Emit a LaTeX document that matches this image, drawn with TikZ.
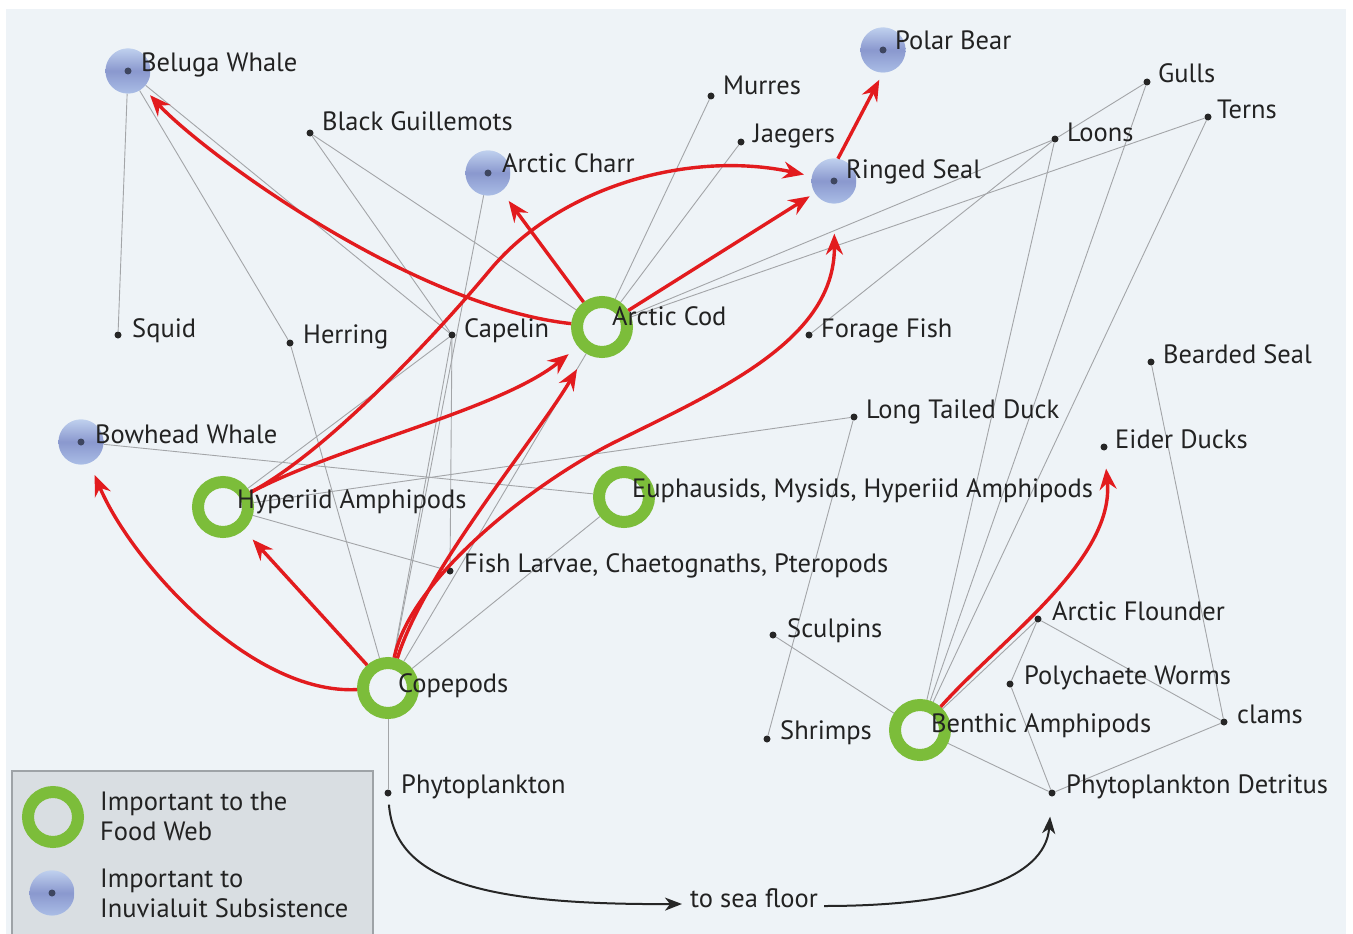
\documentclass[tikz,border=0pt]{standalone}
\usepackage{fontspec}
\setmainfont{PT Sans}
\usetikzlibrary{arrows.meta}
\definecolor{webgreen}{HTML}{7CBD3A}
\definecolor{webred}{HTML}{E21B1E}
\definecolor{webline}{HTML}{A3A5A8}
\definecolor{seabg}{HTML}{EEF3F7}
\definecolor{legendbg}{HTML}{D9DEE2}
\definecolor{legendrim}{HTML}{9EA3A7}
\definecolor{discTop}{HTML}{BFD0EE}
\definecolor{discMid}{HTML}{8A98CE}
\definecolor{discBot}{HTML}{AABDE6}
\definecolor{discDot}{HTML}{3E4660}
\definecolor{labeltext}{HTML}{222222}
\newcommand{\webfont}{\fontsize{26.5}{30}\selectfont}
\pgfdeclarelayer{bg}
\pgfdeclarelayer{edges}
\pgfsetlayers{bg,edges,main}

\begin{document}
\begin{tikzpicture}[x=1pt, y=-1pt, font=\webfont,
  food/.style={circle, draw=webgreen, line width=12pt, minimum size=50pt, inner sep=0pt},
  subsist/.style={circle, minimum size=45pt, inner sep=0pt, fill=discTop,
    path picture={
      \shade[top color=discTop, bottom color=discBot, middle color=discMid]
        (path picture bounding box.south west) rectangle (path picture bounding box.north east);
      \fill[discDot] (path picture bounding box.center) circle (3.5pt);}},
  sp/.style={circle, fill=black!85, minimum size=7pt, inner sep=0pt},
  lbl/.style={anchor=base west, inner sep=0pt, text=labeltext},
  web/.style={draw=webline, line width=0.9pt},
  eat/.style={-{Stealth[length=21pt,width=17pt,inset=7pt]}, draw=webred, line width=3.4pt},
  flow/.style={-{Stealth[length=17pt,width=13pt,inset=5pt]}, draw=black!85, line width=2pt}]
  \useasboundingbox (0,0) rectangle (1353,934);

  % background and legend box
  \begin{pgfonlayer}{bg}
    \fill[white] (0,0) rectangle (1353,934);
    \fill[seabg] (6,9) rectangle (1346,934);
    \fill[legendbg] (12,771) rectangle (373,934);
    \draw[legendrim, line width=2pt] (12,934) |- (373,771) -- (373,934);
  \end{pgfonlayer}

  % important to subsistence
  \node[subsist] (beluga)    at (128,71)  {};
  \node[subsist] (polarbear) at (883,50)  {};
  \node[subsist] (charr)     at (488,173) {};
  \node[subsist] (seal)      at (834,181) {};
  \node[subsist] (bowhead)   at (81,442)  {};

  % important to the food web
  \node[food] (cod)       at (602,327) {};
  \node[food] (hyperiid)  at (223,507) {};
  \node[food] (euph)      at (624,497) {};
  \node[food] (copepods)  at (388,688) {};
  \node[food] (benthic)   at (920,730) {};

  % other species
  \node[sp] (guillemots) at (310,133) {};
  \node[sp] (murres)     at (711,96)  {};
  \node[sp] (jaegers)    at (741,142) {};
  \node[sp] (gulls)      at (1147,82) {};
  \node[sp] (terns)      at (1208,117) {};
  \node[sp] (loons)      at (1055,139) {};
  \node[sp] (squid)      at (118,335) {};
  \node[sp] (herring)    at (290,343) {};
  \node[sp] (capelin)    at (452,335) {};
  \node[sp] (forage)     at (809,335) {};
  \node[sp] (bearded)    at (1151,362) {};
  \node[sp] (duck)       at (854,417) {};
  \node[sp] (eider)      at (1104,447) {};
  \node[sp] (larvae)     at (450,571) {};
  \node[sp] (sculpins)   at (773,635) {};
  \node[sp] (flounder)   at (1038,619) {};
  \node[sp] (worms)      at (1010,684) {};
  \node[sp] (shrimps)    at (767,739) {};
  \node[sp] (clams)      at (1224,722) {};
  \node[sp] (phyto)      at (388,793) {};
  \node[sp] (detritus)   at (1052,793) {};

  % feeding links
  \begin{pgfonlayer}{edges}
    \draw[web] (beluga) -- (squid);
    \draw[web] (beluga) -- (herring);
    \draw[web] (beluga) -- (capelin);
    \draw[web] (guillemots) -- (capelin);
    \draw[web] (guillemots) -- (cod);
    \draw[web] (charr) -- (copepods);
    \draw[web] (murres) -- (cod);
    \draw[web] (jaegers) -- (cod);
    \draw[web] (loons) -- (cod);
    \draw[web] (terns) -- (cod);
    \draw[web] (gulls) -- (loons);
    \draw[web] (forage) -- (loons);
    \draw[web] (loons) -- (benthic);
    \draw[web] (gulls) -- (benthic);
    \draw[web] (terns) -- (benthic);
    \draw[web] (bearded) -- (clams);
    \draw[web] (duck) -- (shrimps);
    \draw[web] (duck) -- (hyperiid);
    \draw[web] (bowhead) -- (euph);
    \draw[web] (capelin) -- (hyperiid);
    \draw[web] (capelin) -- (larvae);
    \draw[web] (capelin) -- (copepods);
    \draw[web] (herring) -- (copepods);
    \draw[web] (cod) -- (copepods);
    \draw[web] (hyperiid) -- (larvae);
    \draw[web] (copepods) -- (euph);
    \draw[web] (copepods) -- (phyto);
    \draw[web] (sculpins) -- (benthic);
    \draw[web] (benthic) -- (flounder);
    \draw[web] (flounder) -- (worms);
    \draw[web] (flounder) -- (clams);
    \draw[web] (worms) -- (detritus);
    \draw[web] (clams) -- (detritus);
    \draw[web] (benthic) -- (detritus);
  \end{pgfonlayer}

  % main pathways
  \draw[eat, shorten >=10pt] (cod) .. controls (410,306) and (200,150) .. (beluga);
  \draw[eat, shorten >=12pt] (cod) -- (charr);
  \draw[eat, shorten >=6pt] (cod) -- (seal);
  \draw[eat, shorten >=8pt] (seal.80) -- (polarbear.south);
  \draw[eat, shorten >=8pt] (hyperiid) .. controls (330,450) and (440,330) .. (490,270)
    .. controls (560,186) and (690,150) .. (seal);
  \draw[eat, shorten >=12pt] (hyperiid) .. controls (340,445) and (500,410) .. (cod);
  \draw[eat, shorten >=18pt] (copepods) .. controls (425,570) and (535,440) .. (cod);
  \draw[eat, shorten >=30pt] (copepods) .. controls (410,580) and (530,485) .. (613,443)
    .. controls (720,390) and (835,340) .. (seal);
  \draw[eat, shorten >=13pt] (copepods) -- (hyperiid);
  \draw[eat, shorten >=13pt] (copepods) .. controls (250,695) and (130,560) .. (bowhead);
  \draw[eat, shorten >=18pt] (benthic) .. controls (1000,640) and (1115,560) .. (eider);

  % labels
  \node[lbl] (belugatxt)    at ([shift={(13,0)}]beluga.center)    {Beluga Whale};
  \node[lbl] (polarbeartxt) at ([shift={(12,0)}]polarbear.center) {Polar Bear};
  \node[lbl] (charrtxt)     at ([shift={(14,-1)}]charr.center)    {Arctic Charr};
  \node[lbl] (sealtxt)      at ([shift={(12,-3)}]seal.center)     {Ringed Seal};
  \node[lbl] (bowheadtxt)   at ([shift={(14,1)}]bowhead.center)   {Bowhead Whale};
  \node[lbl] (codtxt)       at ([shift={(10,-2)}]cod.center)      {Arctic Cod};
  \node[lbl] (hyperiidtxt)  at ([shift={(14,1)}]hyperiid.center)  {Hyperiid Amphipods};
  \node[lbl] (euphtxt)      at ([shift={(8,0)}]euph.center)       {Euphausids, Mysids, Hyperiid Amphipods};
  \node[lbl] (copepodstxt)  at ([shift={(10,4)}]copepods.center)  {Copepods};
  \node[lbl] (benthictxt)   at ([shift={(11,2)}]benthic.center)   {Benthic Amphipods};
  \node[lbl] (guillemotstxt) at ([shift={(12,-3)}]guillemots.center) {Black Guillemots};
  \node[lbl] (murrestxt)    at ([shift={(12,-1)}]murres.center)   {Murres};
  \node[lbl] (jaegerstxt)   at ([shift={(12,0)}]jaegers.center)   {Jaegers};
  \node[lbl] (gullstxt)     at ([shift={(11,0)}]gulls.center)     {Gulls};
  \node[lbl] (ternstxt)     at ([shift={(9,1)}]terns.center)      {Terns};
  \node[lbl] (loonstxt)     at ([shift={(12,2)}]loons.center)     {Loons};
  \node[lbl] (squidtxt)     at ([shift={(14,2)}]squid.center)     {Squid};
  \node[lbl] (herringtxt)   at ([shift={(13,0)}]herring.center)   {Herring};
  \node[lbl] (capelintxt)   at ([shift={(12,2)}]capelin.center)   {Capelin};
  \node[lbl] (foragetxt)    at ([shift={(12,2)}]forage.center)    {Forage Fish};
  \node[lbl] (beardedtxt)   at ([shift={(12,1)}]bearded.center)   {Bearded Seal};
  \node[lbl] (ducktxt)      at ([shift={(12,1)}]duck.center)      {Long Tailed Duck};
  \node[lbl] (eidertxt)     at ([shift={(11,1)}]eider.center)     {Eider Ducks};
  \node[lbl] (larvaetxt)    at ([shift={(14,1)}]larvae.center)    {Fish Larvae, Chaetognaths, Pteropods};
  \node[lbl] (sculpinstxt)  at ([shift={(14,2)}]sculpins.center)  {Sculpins};
  \node[lbl] (floundertxt)  at ([shift={(14,1)}]flounder.center)  {Arctic Flounder};
  \node[lbl] (wormstxt)     at ([shift={(14,0)}]worms.center)     {Polychaete Worms};
  \node[lbl] (shrimpstxt)   at ([shift={(13,0)}]shrimps.center)   {Shrimps};
  \node[lbl] (clamstxt)     at ([shift={(13,1)}]clams.center)     {clams};
  \node[lbl] (phytotxt)     at ([shift={(13,0)}]phyto.center)     {Phytoplankton};
  \node[lbl] (detritustxt)  at ([shift={(14,0)}]detritus.center)  {Phytoplankton Detritus};

  % sinking to the sea floor
  \node[lbl] (seafloor) at (690,907) {to sea floor};
  \draw[flow, shorten <=8pt] (phyto) .. controls (395,880) and (480,905) .. ([shift={(-8,-3)}]seafloor.base west);
  \draw[flow, shorten >=20pt] ([shift={(6,-1)}]seafloor.base east) .. controls (960,906) and (1045,880) .. (detritus);

  % legend
  \node[food] (keyfood) at (53,817) {};
  \node[subsist] (keysubsist) at (52,893) {};
  \node[lbl, anchor=west, align=left] (keyfoodtxt) at (100,816) {Important to the\\Food Web};
  \node[lbl, anchor=west, align=left] (keysubsisttxt) at (100,893) {Important to\\Inuvialuit Subsistence};
\end{tikzpicture}
\end{document}
